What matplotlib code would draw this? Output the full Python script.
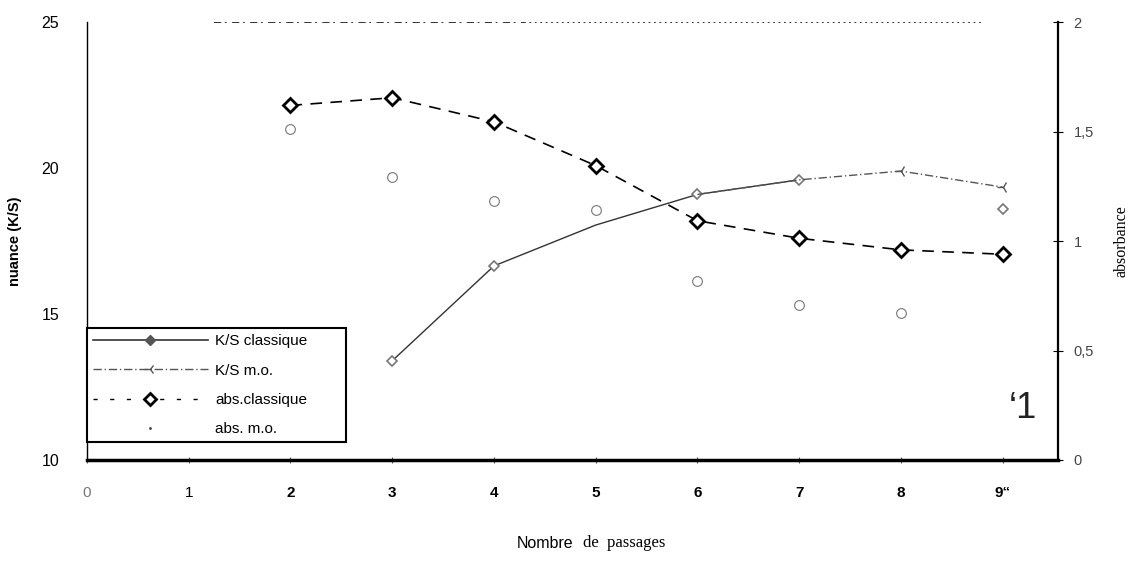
import numpy as np
import matplotlib.pyplot as plt
from matplotlib.lines import Line2D

nan = np.nan
passages = [0, 1, 2, 3, 4, 5, 6, 7, 8, 9]
ks_classique = [nan, nan, nan, 13.4, 16.65, 18.05, 19.1, 19.6, nan, 18.6]
ks_mo = [nan, nan, nan, nan, nan, nan, 19.1, 19.6, 19.9, 19.35]
abs_classique = [nan, nan, 1.62, 1.655, 1.545, 1.345, 1.093, 1.013, 0.96, 0.94]
abs_mo = [nan, nan, 1.51, 1.295, 1.185, 1.14, 0.816, 0.71, 0.673, nan]

xtick_labels = ['0', '1', '2', '3', '4', '5', '6', '7', '8', '9\u201c']
left_ticks = [10, 15, 20, 25]
right_ticks = [0, 0.5, 1, 1.5, 2]
right_labels = ['0', '0,5', '1', '1,5', '2']

fig = plt.figure(figsize=(11.36, 5.70), dpi=100)
ax = fig.add_axes([0.0766, 0.193, 0.8544, 0.768])
ax2 = ax.twinx()

# K/S on the left axis
ax.plot(passages, ks_classique, color='#333333', lw=1.0, ls='-',
        marker='D', ms=5, mfc='white', mec='#777777', mew=1.2,
        markevery=[3, 4, 6, 7, 9])
ax.plot(passages, ks_mo, color='#555555', lw=1.0, ls=(0, (6, 2, 1, 2)),
        marker='3', ms=9, mec='#555555', mew=1.0, markevery=[8, 9])

# absorbance on the right axis
ax2.plot(passages, abs_classique, color='black', lw=1.2, ls=(0, (7, 5)),
         marker='D', ms=7, mfc='white', mec='black', mew=2.0)
ax2.plot(passages, abs_mo, ls='none', marker='o', ms=7, mfc='none',
         mec='#777777', mew=0.8)

# scanned top border
ax.hlines(25, 1.25, 4.3, colors='#222222', lw=1.3, linestyles=(0, (4, 2, 1, 3)))
ax.hlines(25, 4.3, 8.8, colors='#222222', lw=1.3, linestyles=(0, (1, 2)))
ax.text(9.2, 11.75, '\u20181', fontsize=26, color='#222222',
        family='Liberation Sans', ha='center', va='center')

ax.set_xlim(0, 9.54)
ax.set_ylim(10, 25)
ax2.set_ylim(0, 2)

for s in ['top', 'right']:
    ax.spines[s].set_visible(False)
ax2.spines['top'].set_visible(False)
ax2.spines['left'].set_visible(False)
ax2.spines['bottom'].set_visible(False)
ax.spines['left'].set_linewidth(1.0)
ax.spines['bottom'].set_linewidth(2.5)
ax2.spines['right'].set_linewidth(1.6)

ax.set_xticks(passages)
ax.set_xticklabels(xtick_labels, family='Liberation Sans', fontsize=11)
for i, t in enumerate(ax.get_xticklabels()):
    if i >= 2:
        t.set_fontweight('bold')
    if i == 0:
        t.set_color('#777777')
ax.tick_params(axis='x', direction='inout', length=5, width=0.8,
               color='#555555', pad=16)

ax.set_yticks(left_ticks)
ax.set_yticklabels([str(v) for v in left_ticks], family='Liberation Sans',
                   fontsize=11.5)
ax.tick_params(axis='y', length=0, pad=20)

ax2.set_yticks(right_ticks)
ax2.set_yticklabels(right_labels, family='Liberation Sans', fontsize=10.5,
                    color='#444444')
ax2.tick_params(axis='y', direction='inout', length=7, width=0.8, pad=8)

ax.set_ylabel('nuance (K/S)', family='Liberation Sans', fontsize=10.5,
              fontweight='bold', labelpad=14)
ax2.set_ylabel('absorbance', family='Liberation Serif', fontsize=11.5,
               labelpad=14)

fig.text(0.505, 0.047, 'Nombre', family='Liberation Sans', fontsize=11.5,
         ha='right', va='center')
fig.text(0.513, 0.047, 'de  passages', family='Liberation Serif',
         fontsize=12, ha='left', va='center')

handles = [
    Line2D([], [], color='#333333', lw=1.2, marker='D', ms=5, mfc='#555555',
           mec='#555555'),
    Line2D([], [], color='#555555', lw=1.0, ls=(0, (6, 2, 1, 2)), marker='3',
           ms=8, mec='#555555'),
    Line2D([], [], color='black', lw=1.0, ls=(0, (3, 9)), marker='D', ms=6,
           mfc='white', mec='black', mew=2),
    Line2D([], [], ls='none', marker='.', ms=2, color='#444444'),
]
labels = ['K/S classique', 'K/S m.o.', 'abs.classique', 'abs. m.o.']
leg = ax2.legend(handles, labels, loc='upper left',
                 bbox_to_anchor=(0.0, 0.033, 0.267, 0.268), mode='expand',
                 prop={'family': 'Liberation Sans', 'size': 11},
                 handlelength=7.5, handletextpad=0.5, labelspacing=1.0,
                 borderpad=0.4, borderaxespad=0, fancybox=False,
                 framealpha=1, edgecolor='black')
leg.get_frame().set_linewidth(1.5)

fig.savefig('out.png', dpi=100)
